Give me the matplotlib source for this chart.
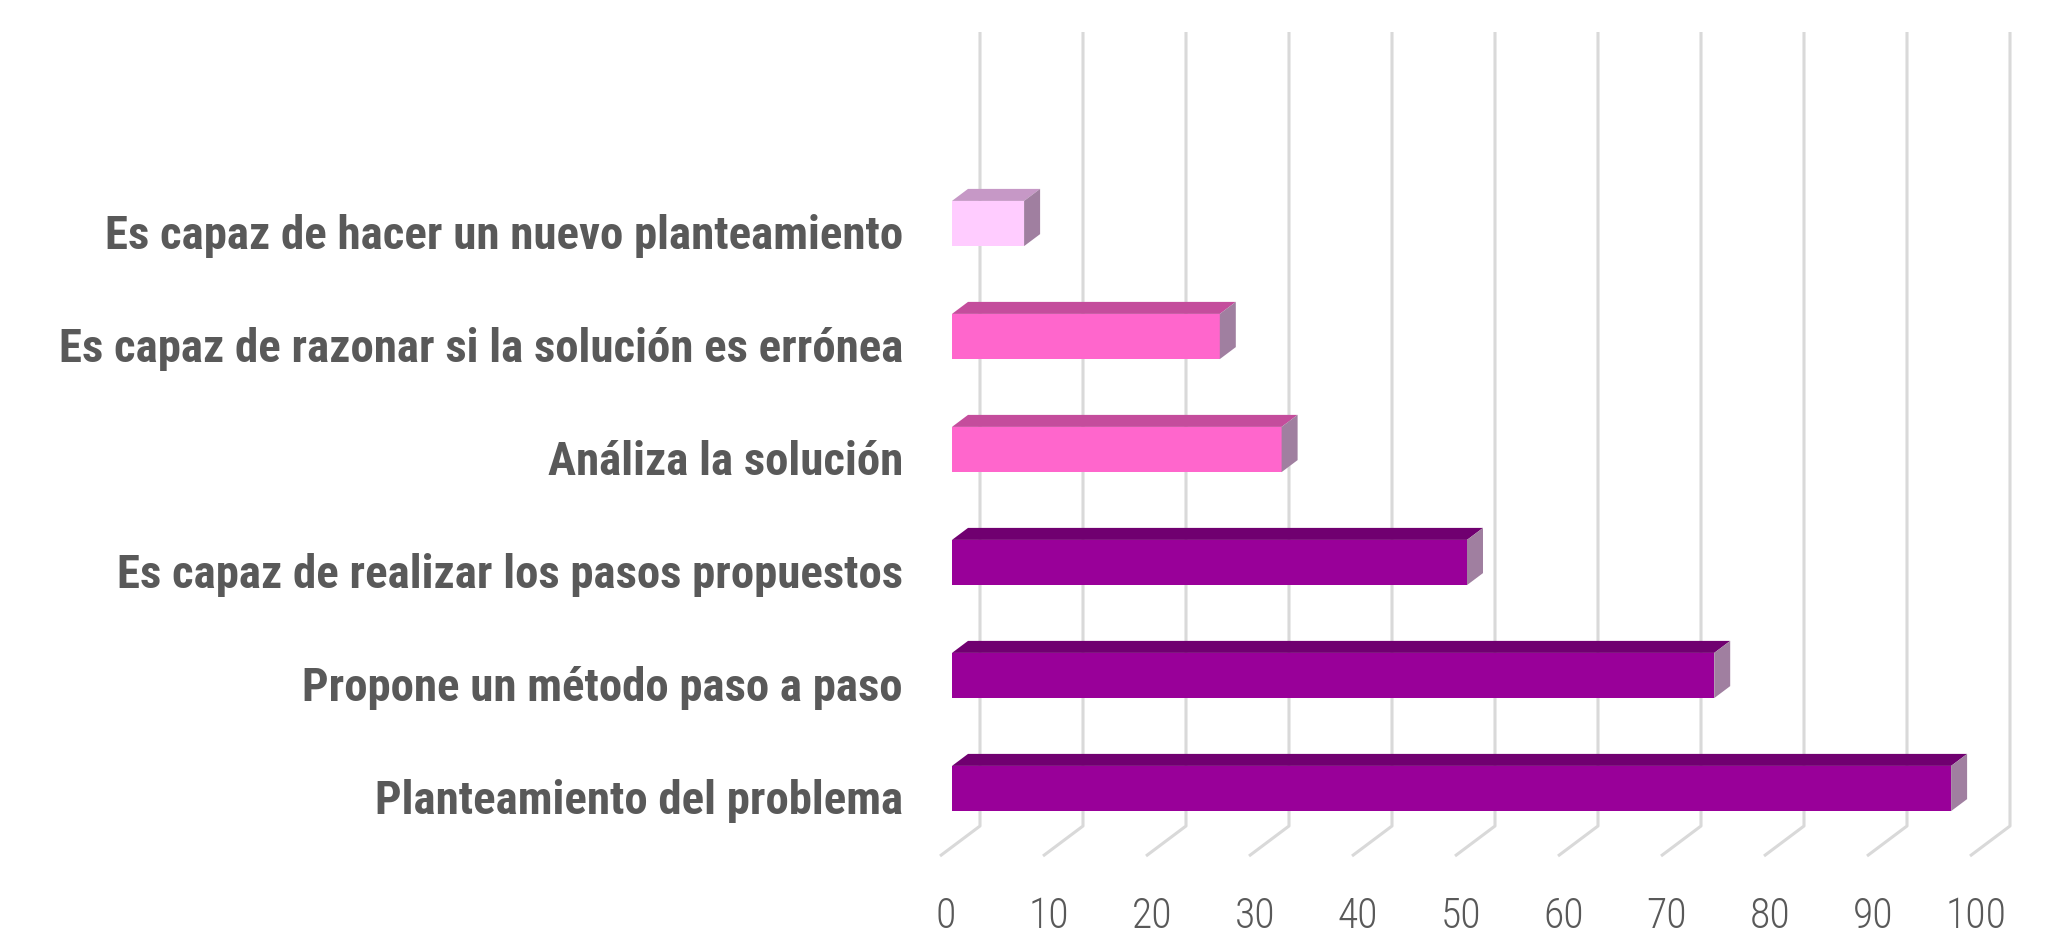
import matplotlib
matplotlib.use("Agg")
import matplotlib.pyplot as plt
from matplotlib.patches import Polygon
from matplotlib import font_manager

categories = [
    "Planteamiento del problema",
    "Propone un método paso a paso",
    "Es capaz de realizar los pasos propuestos",
    "Análiza la solución",
    "Es capaz de razonar si la solución es errónea",
    "Es capaz de hacer un nuevo planteamiento",
]
values = [97, 74, 50, 32, 26, 7]
face_colors = ["#990099", "#990099", "#990099", "#FF66CC", "#FF66CC", "#FFCCFF"]
top_colors = ["#700070", "#700070", "#700070", "#C44D9C", "#C44D9C", "#C698C6"]
side_color = "#A07FA0"
ticks = list(range(0, 101, 10))

# pick a narrow-ish font that is actually installed
FONT = "DejaVu Sans"
for name in ["Liberation Sans Narrow", "Roboto Condensed", "Open Sans Condensed", "Lato"]:
    try:
        font_manager.findfont(name, fallback_to_default=False)
        FONT = name
        break
    except Exception:
        pass

# pixel geometry -> data units (x: 10.3 px per unit, y: 113 px per row)
PX_X = 10.3
PX_Y = 113.0
X0_PX = 952.0
Y0_PX = 789.5
W, H = 2056, 937

fig = plt.figure(figsize=(W / 100, H / 100), dpi=100)
ax = fig.add_axes([0, 0, 1, 1])
ax.set_xlim(-X0_PX / PX_X, (W - X0_PX) / PX_X)
ax.set_ylim((Y0_PX - H) / PX_Y, Y0_PX / PX_Y)
ax.set_axis_off()

def dx(px):
    return px / PX_X

def dy(px):
    return px / PX_Y

# back wall / floor offsets relative to bar front plane
wall_dx, wall_dy = dx(28), dy(21)
floor_dx, floor_dy = dx(-40), dy(-30)
y_top = (Y0_PX - 33) / PX_Y
y_floor = (Y0_PX - 827) / PX_Y

GRID = "#D9D9D9"
for v in ticks:
    xw = v + wall_dx
    ax.plot([xw, xw, xw + floor_dx], [y_top, y_floor, y_floor + floor_dy],
            color=GRID, lw=2.2, solid_capstyle="butt", zorder=1)
    ax.text(v - 0.6, (Y0_PX - 917) / PX_Y, str(v), ha="center", va="center",
            fontsize=30, color="#595959", fontweight="light",
            family=[FONT, "DejaVu Sans"])

# bars: front face + top + side (oblique 3D look)
bh = 0.4
bdx, bdy = dx(16), dy(12)
ypos = list(range(len(categories)))
ax.barh(ypos, values, height=bh, left=0, color=face_colors, zorder=3,
        edgecolor="none")
for y, v, tc in zip(ypos, values, top_colors):
    yt = y + bh / 2
    yb = y - bh / 2
    ax.add_patch(Polygon([(0, yt), (v, yt), (v + bdx, yt + bdy), (bdx, yt + bdy)],
                         closed=True, facecolor=tc, edgecolor="none", zorder=3))
    ax.add_patch(Polygon([(v, yb), (v, yt), (v + bdx, yt + bdy), (v + bdx, yb + bdy)],
                         closed=True, facecolor=side_color, edgecolor="none", zorder=3))

# category labels, sized so the longest one spans ~844 px like the reference
labels = []
for y, lab in zip(ypos, categories):
    labels.append(ax.text(dx(-49), y - dy(12), lab, ha="right", va="center",
                          fontsize=30, fontweight="bold", color="#595959",
                          family=[FONT, "DejaVu Sans"]))
renderer = fig.canvas.get_renderer()
widest = max(t.get_window_extent(renderer).width for t in labels)
size = min(34, 30 * 844 / widest)
for t in labels:
    t.set_fontsize(size)

fig.savefig("out.png", dpi=100, facecolor="white")
